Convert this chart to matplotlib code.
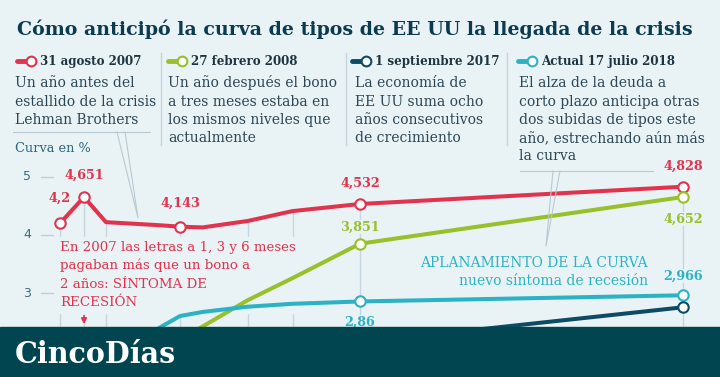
import numpy as np
import matplotlib
matplotlib.use("Agg")
import matplotlib.pyplot as plt
from matplotlib.patches import Rectangle
from matplotlib.transforms import blended_transform_factory

# Plazos de la deuda de EE UU (en años) y rentabilidad en %
plazos = ["1 mes", "3 meses", "6 meses", "1 año", "2 años", "3 años",
          "5 años", "7 años", "10 años", "30 años"]
plazos_anios = [1/12, 0.25, 0.5, 1, 2, 3, 5, 7, 10, 30]

ago_2007 = [4.2, 4.651, 4.22, 4.17, 4.143, 4.13, 4.24, 4.41, 4.532, 4.828]
feb_2008 = [2.2, 2.15, 2.1, 2.05, 2.2, 2.43, 2.88, 3.26, 3.851, 4.652]
sep_2017 = [0.97, 1.01, 1.13, 1.23, 1.35, 1.45, 1.75, 1.99, 2.16, 2.76]
jul_2018 = [1.93, 2.01, 2.16, 2.39, 2.61, 2.68, 2.77, 2.82, 2.86, 2.966]

fechas = ["31 agosto 2007", "27 febrero 2008", "1 septiembre 2017",
          "Actual 17 julio 2018"]
textos = [
    ["Un año antes del", "estallido de la crisis", "Lehman Brothers"],
    ["Un año después el bono", "a tres meses estaba en",
     "los mismos niveles que", "actualmente"],
    ["La economía de", "EE UU suma ocho", "años consecutivos",
     "de crecimiento"],
    ["El alza de la deuda a", "corto plazo anticipa otras",
     "dos subidas de tipos este", "año, estrechando aún más", "la curva"],
]
valores_y = [3, 4, 5]
plazos_rejilla = [1/12, 0.25, 0.5, 2, 5, 7, 10, 30]

titulo = "Cómo anticipó la curva de tipos de EE UU la llegada de la crisis"

fondo = "#e9f3f6"
rojo = "#e1334d"
verde = "#97c02a"
cian = "#2cb3c3"
azul = "#0d4a64"
colores = [rojo, verde, azul, cian]
series = [ago_2007, feb_2008, sep_2017, jul_2018]
serif = "DejaVu Serif"

fig = plt.figure(figsize=(7.2, 3.77), dpi=100)
fig.patch.set_facecolor(fondo)

# eje del gráfico: escala de plazos por tramos
esc_anios = [-0.5, 1/12, 0.25, 0.5, 1, 10, 30, 33]
esc_px = [0, 60, 84, 106, 157.5, 360, 683, 720]


def adelante(x):
    return np.interp(x, esc_anios, esc_px)


def atras(p):
    return np.interp(p, esc_px, esc_anios)


ax = fig.add_axes([0, 0, 1, 1])
ax.set_xscale("function", functions=(adelante, atras))
ax.set_xlim(-0.5, 33)
ax.set_ylim(4 - 142 / 58.3, 4 + 235 / 58.3)
ax.axis("off")

# capa de maquetación en píxeles
capa = fig.add_axes([0, 0, 1, 1], zorder=5)
capa.set_xlim(0, 720)
capa.set_ylim(377, 0)
capa.axis("off")
capa.patch.set_alpha(0)

mezcla = blended_transform_factory(capa.transData, ax.transData)

# rejilla vertical
for p in plazos_rejilla:
    i = plazos_anios.index(p)
    tope = max(s[i] for s in series)
    ax.vlines(p, 0, tope, color="#c6d6de", lw=1, zorder=1)

# eje y
for v in valores_y:
    ax.plot([41, 53], [v, v], color="#bfcfd7", lw=1, transform=mezcla)
    ax.text(27, v, str(v), transform=mezcla, ha="center", va="center",
            fontsize=9, color="#3a6d80")

# curvas
for s, c in zip(series, colores):
    ax.plot(plazos_anios, s, color=c, lw=2.9, solid_capstyle="round",
            solid_joinstyle="round", zorder=3)

marcas = [(ago_2007, rojo, [0, 1, 4, 8, 9]), (feb_2008, verde, [8, 9]),
          (jul_2018, cian, [8, 9]), (sep_2017, azul, [9])]
for s, c, idx in marcas:
    ax.plot([plazos_anios[i] for i in idx], [s[i] for i in idx], "o",
            ms=7.5, mfc="white", mec=c, mew=1.5, zorder=4)

# etiquetas de valores
etiquetas = [(ago_2007, 0, "4,2", 18, rojo), (ago_2007, 1, "4,651", 16, rojo),
             (ago_2007, 4, "4,143", 17, rojo), (ago_2007, 8, "4,532", 15, rojo),
             (ago_2007, 9, "4,828", 15, rojo), (feb_2008, 8, "3,851", 12, verde),
             (feb_2008, 9, "4,652", -16, verde), (jul_2018, 9, "2,966", 14, cian),
             (jul_2018, 8, "2,86", -15, cian)]
for s, i, txt, dy, c in etiquetas:
    ax.annotate(txt, (plazos_anios[i], s[i]), xytext=(0, dy),
                textcoords="offset points", ha="center", va="center",
                fontsize=9.2, fontweight="bold", color=c, family=serif,
                zorder=2,
                bbox=dict(fc=fondo, ec="none", pad=0.5))

# anotación roja (tapa la rejilla, no las curvas)
nota = ["En 2007 las letras a 1, 3 y 6 meses", "pagaban más que un bono a",
        "2 años: SÍNTOMA DE", "RECESIÓN"]
ax.add_patch(Rectangle((58, 237), 240, 76, color=fondo, zorder=1.5,
                       transform=capa.transData))
for k, linea in enumerate(nota):
    ax.text(60, 251 + 18.3 * k, linea, fontsize=9.6, color=rojo,
            family=serif, va="baseline", transform=capa.transData, zorder=2)
capa.annotate("", xy=(84, 327), xytext=(84, 313),
              arrowprops=dict(arrowstyle="-|>", color=rojo, lw=1.2,
                              mutation_scale=8))

# anotación cian
capa.text(648, 267, "APLANAMIENTO DE LA CURVA", fontsize=10, color=cian,
          family=serif, ha="right", va="baseline")
capa.text(648, 285, "nuevo síntoma de recesión", fontsize=10, color=cian,
          family=serif, ha="right", va="baseline")

# líneas guía
gris = "#b9c9d1"
capa.plot([13, 150], [132, 132], color=gris, lw=0.8)
capa.plot([117, 138, 125], [132, 218, 132], color=gris, lw=0.8)
capa.plot([520, 653], [171, 171], color=gris, lw=0.8)
capa.plot([553, 546, 560], [171, 246, 171], color=gris, lw=0.8)

# título
capa.text(17, 35, titulo, fontsize=13.7, fontweight="bold", color="#0c3a4f",
          family=serif, va="baseline")

# cabeceras de leyenda
col_x = [15, 166, 350, 516]
desc_x = [15, 168, 355, 519]
for k in range(4):
    x0 = col_x[k]
    capa.plot([x0 + 2, x0 + 15], [61, 61], color=colores[k], lw=3.5,
              solid_capstyle="round")
    capa.plot([x0 + 16], [61], "o", ms=7, mfc="white", mec=colores[k],
              mew=1.5)
    capa.text(x0 + 25, 65, fechas[k], fontsize=8.6, fontweight="bold",
              color="#1d3440", family=serif, va="baseline")
    for j, linea in enumerate(textos[k]):
        capa.text(desc_x[k], 87.3 + 18.3 * j, linea, fontsize=10,
                  color="#2c4654", family=serif, va="baseline")

for xs in [161, 346, 507]:
    capa.plot([xs, xs], [53, 145], color="#c6d4db", lw=1)

capa.text(15, 152, "Curva en %", fontsize=9.3, color="#2f6577", family=serif,
          va="baseline")

# banda de la cabecera
capa.add_patch(Rectangle((0, 327), 720, 50, color="#00454f", zorder=10))
capa.text(15, 363, "CincoDías", fontsize=20.6, fontweight="bold",
          color="white", family=serif, va="baseline", zorder=11)

fig.savefig("out.png", dpi=100, facecolor=fondo)
